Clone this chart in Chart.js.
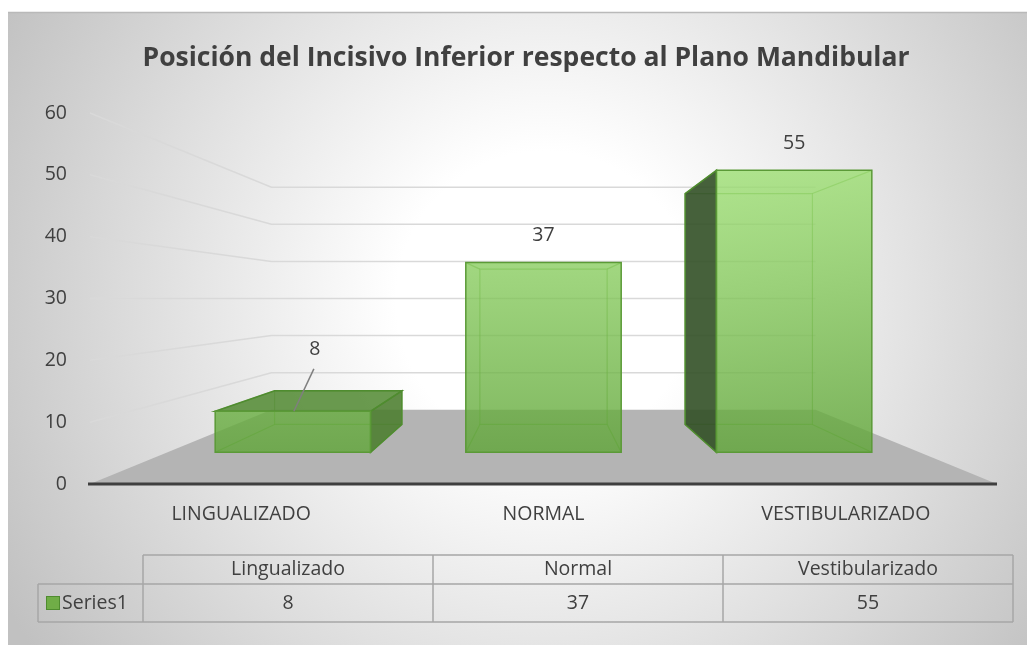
<!DOCTYPE html>
<html>
<head>
<meta charset="utf-8">
<script src="https://cdn.jsdelivr.net/npm/chart.js@4.4.1/dist/chart.umd.min.js"></script>
<style>
  html, body { margin:0; padding:0; background:#fff; }
  #wrap { width:1027px; height:645px; position:relative; }
</style>
</head>
<body>
<div id="wrap"><canvas id="c" width="1027" height="645"></canvas></div>
<script>
// chart data
const TITLE = 'Posición del Incisivo Inferior respecto al Plano Mandibular';
const categories = ['LINGUALIZADO', 'NORMAL', 'VESTIBULARIZADO'];
const tableHeaders = ['Lingualizado', 'Normal', 'Vestibularizado'];
const seriesName = 'Series1';
const values = [8, 37, 55];
const yTicks = [0, 10, 20, 30, 40, 50, 60];

const FONT = '"Open Sans", "Noto Sans", sans-serif';
const TXT = '#404040';
// depth of the 3D planes, as a scale toward the vanishing point (centre of plot)
const S_FRONT = 0.829, S_BACK = 0.679, S_WALL = 0.6;

function proj(ca, x, y, s) {
  const vx = (ca.left + ca.right) / 2, vy = (ca.top + ca.bottom) / 2;
  return [vx + s * (x - vx), vy + s * (y - vy)];
}
function poly(ctx, pts) {
  ctx.beginPath();
  ctx.moveTo(pts[0][0], pts[0][1]);
  for (let i = 1; i < pts.length; i++) ctx.lineTo(pts[i][0], pts[i][1]);
  ctx.closePath();
}

const bgPlugin = {
  id: 'bg',
  beforeDraw(chart) {
    const ctx = chart.ctx, W = chart.width, H = chart.height;
    ctx.save();
    ctx.fillStyle = '#fff';
    ctx.fillRect(0, 0, W, H);
    const g = ctx.createRadialGradient(545, 300, 0, 545, 300, 620);
    g.addColorStop(0, '#ffffff');
    g.addColorStop(0.24, '#ffffff');
    g.addColorStop(1, '#c1c1c1');
    ctx.fillStyle = g;
    ctx.fillRect(8, 12, W - 8, H - 12);
    ctx.strokeStyle = '#b9b9b9';
    ctx.lineWidth = 1.5;
    ctx.beginPath(); ctx.moveTo(8, 12.5); ctx.lineTo(W, 12.5); ctx.stroke();
    ctx.restore();
  }
};

const wallPlugin = {
  id: 'walls',
  beforeDatasetsDraw(chart) {
    const ctx = chart.ctx, ca = chart.chartArea, ys = chart.scales.y;
    const y0 = ys.getPixelForValue(0);
    ctx.save();
    // floor
    ctx.fillStyle = '#b4b4b4';
    poly(ctx, [proj(ca, ca.left, y0, 1), proj(ca, ca.right, y0, 1),
               proj(ca, ca.right, y0, S_WALL), proj(ca, ca.left, y0, S_WALL)]);
    ctx.fill();
    // gridlines: left wall + back wall
    ctx.strokeStyle = '#d9d9d9';
    ctx.lineWidth = 1.5;
    ys.ticks.forEach(t => {
      if (t.value === 0) return;
      const yy = ys.getPixelForValue(t.value);
      const p1 = proj(ca, ca.left, yy, 1), p2 = proj(ca, ca.left, yy, S_WALL), p3 = proj(ca, ca.right, yy, S_WALL);
      ctx.beginPath(); ctx.moveTo(p1[0], p1[1]); ctx.lineTo(p2[0], p2[1]); ctx.lineTo(p3[0], p3[1]); ctx.stroke();
    });
    // axis line
    ctx.strokeStyle = '#3f3f3f';
    ctx.lineWidth = 3;
    ctx.beginPath(); ctx.moveTo(ca.left - 2, y0); ctx.lineTo(ca.right, y0); ctx.stroke();
    ctx.restore();
  }
};

const box3dPlugin = {
  id: 'box3d',
  afterDatasetsDraw(chart) {
    const ctx = chart.ctx, ca = chart.chartArea;
    const vx = (ca.left + ca.right) / 2, vy = (ca.top + ca.bottom) / 2;
    const y0 = proj(ca, 0, chart.scales.y.getPixelForValue(0), S_FRONT)[1];
    const meta = chart.getDatasetMeta(0);
    ctx.save();
    meta.data.forEach((bar, i) => {
      const p = bar.getProps(['x', 'y', 'base', 'width'], true);
      const l = p.x - p.width / 2, r = p.x + p.width / 2;
      const face = s => ({tl: proj(ca, l, p.y, s), tr: proj(ca, r, p.y, s),
                          br: proj(ca, r, p.base, s), bl: proj(ca, l, p.base, s)});
      const f = face(S_FRONT), k = face(S_BACK);
      // hidden edges seen through the front
      ctx.strokeStyle = 'rgba(90,155,50,0.55)';
      ctx.lineWidth = 1.2;
      poly(ctx, [k.tl, k.tr, k.br, k.bl]); ctx.stroke();
      ['tl', 'tr', 'br', 'bl'].forEach(c => {
        ctx.beginPath(); ctx.moveTo(f[c][0], f[c][1]); ctx.lineTo(k[c][0], k[c][1]); ctx.stroke();
      });
      ctx.strokeStyle = '#4f8c2f';
      ctx.lineWidth = 1.5;
      // side faces
      if (r < vx) {
        ctx.fillStyle = 'rgba(75,125,45,0.88)';
        poly(ctx, [f.tr, k.tr, k.br, f.br]); ctx.fill(); ctx.stroke();
      }
      if (l > vx) {
        ctx.fillStyle = 'rgba(50,80,38,0.9)';
        poly(ctx, [f.tl, k.tl, k.bl, f.bl]); ctx.fill(); ctx.stroke();
      }
      // top face
      if (p.y > vy) {
        ctx.fillStyle = 'rgba(85,140,55,0.88)';
        poly(ctx, [f.tl, f.tr, k.tr, k.tl]); ctx.fill(); ctx.stroke();
      }
      // front face, lit from the top of the plot
      const g = ctx.createLinearGradient(0, ca.top + 40, 0, y0);
      g.addColorStop(0, 'rgba(155,225,110,0.75)');
      g.addColorStop(1, 'rgba(95,165,55,0.8)');
      ctx.fillStyle = g;
      ctx.strokeStyle = '#5b9a37';
      poly(ctx, [f.tl, f.tr, f.br, f.bl]); ctx.fill(); ctx.stroke();

      // data label
      const cx = (f.tl[0] + f.tr[0]) / 2;
      const topY = Math.min(f.tl[1], k.tl[1]);
      ctx.font = '19.5px ' + FONT;
      ctx.fillStyle = TXT;
      ctx.textAlign = 'center';
      ctx.textBaseline = 'middle';
      if (f.bl[1] - f.tl[1] < 60) {
        ctx.fillText(String(values[i]), cx + 22, topY - 41);
        ctx.strokeStyle = '#7f7f7f';
        ctx.lineWidth = 1.5;
        ctx.beginPath(); ctx.moveTo(cx + 21, topY - 22); ctx.lineTo(cx + 1, f.tl[1]); ctx.stroke();
      } else {
        ctx.fillText(String(values[i]), cx, topY - 27);
      }
    });
    ctx.restore();
  }
};

const tablePlugin = {
  id: 'datatable',
  afterDraw(chart) {
    const ctx = chart.ctx;
    ctx.save();
    // title
    ctx.font = 'bold 26.5px ' + FONT;
    ctx.fillStyle = TXT;
    ctx.textAlign = 'center';
    ctx.textBaseline = 'middle';
    ctx.fillText(TITLE, 526, 58);

    // data table
    const colX = [143, 433, 723, 1013], legX = 38;
    const r0 = 555, r1 = 584, r2 = 622;
    ctx.strokeStyle = '#a6a6a6';
    ctx.lineWidth = 1.5;
    ctx.beginPath();
    ctx.moveTo(colX[0], r0); ctx.lineTo(colX[3], r0);
    ctx.moveTo(legX, r1); ctx.lineTo(colX[3], r1);
    ctx.moveTo(legX, r2); ctx.lineTo(colX[3], r2);
    ctx.moveTo(legX, r1); ctx.lineTo(legX, r2);
    colX.forEach(x => { ctx.moveTo(x, r0); ctx.lineTo(x, r2); });
    ctx.stroke();

    ctx.font = '19.5px ' + FONT;
    ctx.fillStyle = TXT;
    tableHeaders.forEach((h, i) => ctx.fillText(h, (colX[i] + colX[i + 1]) / 2, (r0 + r1) / 2));
    values.forEach((v, i) => ctx.fillText(String(v), (colX[i] + colX[i + 1]) / 2, (r1 + r2) / 2));
    // legend key
    ctx.fillStyle = '#70ad47';
    ctx.strokeStyle = '#4f8c2f';
    ctx.lineWidth = 1;
    ctx.fillRect(46, 596, 13, 13);
    ctx.strokeRect(46.5, 596.5, 13, 13);
    ctx.fillStyle = TXT;
    ctx.textAlign = 'left';
    ctx.fillText(seriesName, 62, (r1 + r2) / 2);
    ctx.restore();
  }
};

new Chart(document.getElementById('c'), {
  type: 'bar',
  data: {
    labels: categories,
    datasets: [{
      label: seriesName,
      data: values,
      backgroundColor: 'rgba(0,0,0,0)',
      borderWidth: 0,
      barPercentage: 0.62,
      categoryPercentage: 1
    }]
  },
  options: {
    responsive: false,
    animation: false,
    events: [],
    layout: { padding: { top: 113, right: 30, left: 0, bottom: 0 } },
    plugins: { legend: { display: false }, title: { display: false }, tooltip: { enabled: false } },
    scales: {
      x: {
        grid: { display: false, drawTicks: false },
        border: { display: false },
        ticks: { color: TXT, font: { family: FONT, size: 19.5 }, padding: 19, autoSkip: false, maxRotation: 0 },
        afterFit: s => { s.height = 161; }
      },
      y: {
        min: yTicks[0],
        max: yTicks[yTicks.length - 1],
        grid: { display: false, drawTicks: false },
        border: { display: false },
        ticks: { stepSize: 10, color: TXT, font: { family: FONT, size: 19.5 }, padding: 23 },
        afterFit: s => { s.width = 90; }
      }
    }
  },
  plugins: [bgPlugin, wallPlugin, box3dPlugin, tablePlugin]
});
</script>
</body>
</html>
